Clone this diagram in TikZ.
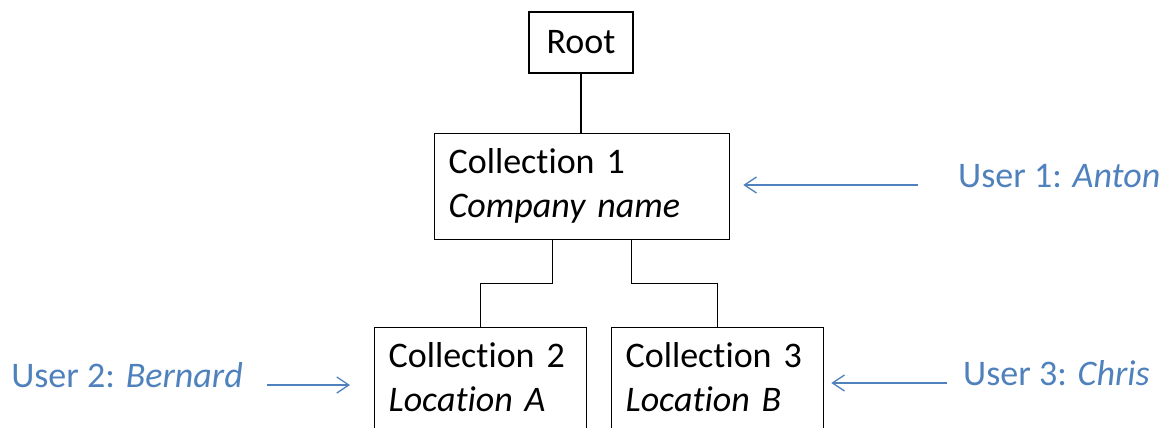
\documentclass[tikz,border=0pt]{standalone}
\usepackage{fontspec}
\setmainfont{Carlito}[Ligatures=CommonOff]
\usetikzlibrary{arrows.meta}
\definecolor{userblue}{RGB}{79,129,189}
\tikzset{
  coll/.style={draw, line width=1.3pt, minimum height=106pt, align=left, anchor=north west, inner xsep=14pt, inner ysep=0pt},
  user/.style={text=userblue, inner sep=0pt, text height=.75em, text depth=.25em},
  tie/.style={line width=1.2pt},
  who/.style={draw=userblue, line width=1.3pt, -{Straight Barb[length=12pt,width=16pt]}}
}
\begin{document}
\begin{tikzpicture}[x=1pt, y=-1pt, font=\fontsize{36}{44}\selectfont]
\useasboundingbox (0,0) rectangle (1168,428);
\clip (0,0) rectangle (1168,428);
% collections
\node[draw, line width=1.3pt, minimum width=104pt, minimum height=61pt, inner sep=0pt] (root) at (581,42.5) {Root};
\node[coll, text width=267pt] (c1) at (434,133) {\strut Collection 1\\ \strut\textit{Company name}};
\node[coll, text width=184pt] (c2) at (374,327) {\strut Collection 2\\ \strut\textit{Location A}};
\node[coll, text width=184pt] (c3) at (611,327) {\strut Collection 3\\ \strut\textit{Location B}};
\draw[tie] (root.south) -- (root.south |- c1.north);
\draw[tie] ([xshift=-29.5pt]c1.south) -- ++(0,43) -| (c2.north);
\draw[tie] ([xshift=49.5pt]c1.south) -- ++(0,43) -| (c3.north);
% users
\node[user, anchor=west] (u1) at (958,185) {User 1: \textit{Anton}};
\node[user, anchor=east] (u2) at (243,385) {User 2: \textit{Bernard}};
\node[user, anchor=west] (u3) at (963,383) {User 3: \textit{Chris}};
\draw[who, shorten <=40pt, shorten >=13pt] (u1.west) -- (u1.west -| c1.east);
\draw[who, shorten <=24pt, shorten >=24pt] (u2.east) -- (u2.east -| c2.west);
\draw[who, shorten <=16pt, shorten >=7pt] (u3.west) -- (u3.west -| c3.east);
\end{tikzpicture}
\end{document}
